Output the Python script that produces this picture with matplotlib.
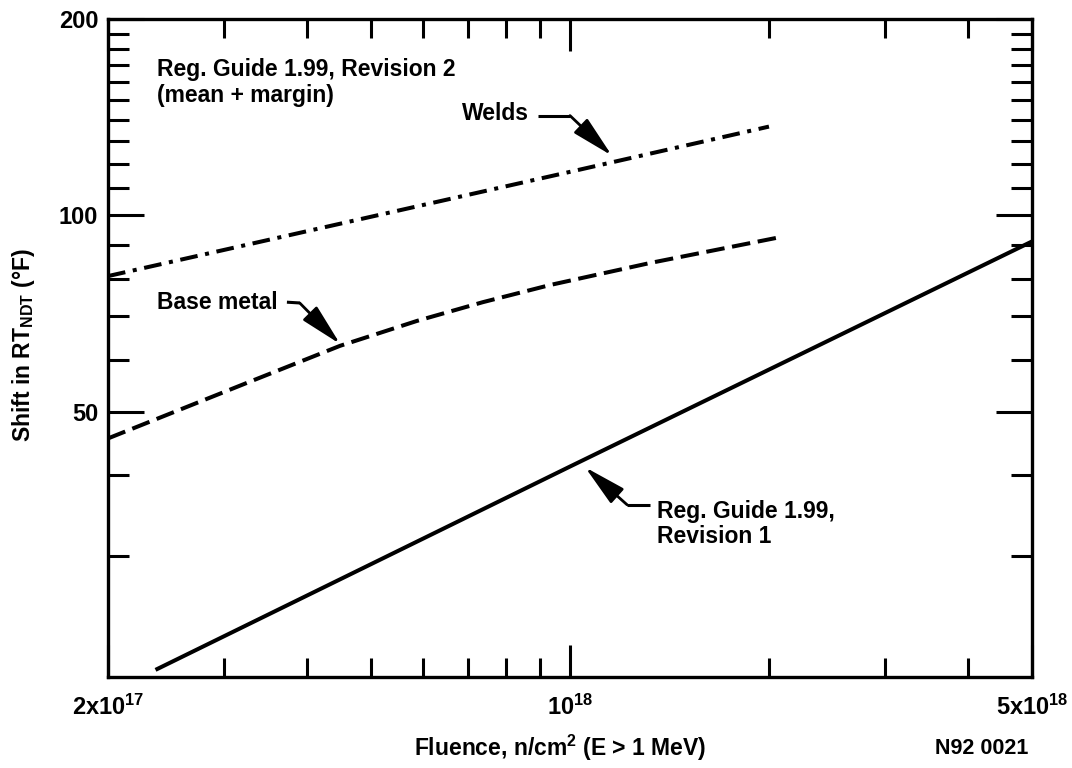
import matplotlib
matplotlib.use('Agg')
import matplotlib.pyplot as plt
from matplotlib.ticker import FixedLocator, FixedFormatter, NullFormatter

plt.rcParams['font.family'] = ['Liberation Sans', 'DejaVu Sans']
plt.rcParams['font.weight'] = 'bold'
plt.rcParams['axes.labelweight'] = 'bold'
plt.rcParams['mathtext.fontset'] = 'custom'
plt.rcParams['mathtext.rm'] = 'Liberation Sans:bold'
plt.rcParams['mathtext.it'] = 'Liberation Sans:bold'
plt.rcParams['mathtext.bf'] = 'Liberation Sans:bold'
plt.rcParams['mathtext.default'] = 'rm'

# ---- data ----
rev1_fluence = [2.36e17, 1.0e18, 5.0e18]
rev1_shift = [20.1, 41.2, 91.2]

base_fluence = [2.0e17, 3.28e17, 4.49e17, 5.87e17, 7.38e17, 9.33e17, 1.32e18, 2.08e18]
base_shift = [45.5, 55.6, 63.1, 68.9, 73.6, 78.2, 84.5, 92.6]

weld_fluence = [2.0e17, 1.0e18, 2.0e18]
weld_shift = [80.7, 116.6, 136.8]

x_major = [2e17, 1e18, 5e18]
x_major_labels = [r'$2x10^{17}$', r'$10^{18}$', r'$5x10^{18}$']
x_minor = [3e17, 4e17, 5e17, 6e17, 7e17, 8e17, 9e17, 2e18, 3e18, 4e18]
y_major = [50, 100, 200]
y_major_labels = ['50', '100', '200']
y_minor = [30, 40, 60, 70, 80, 90, 110, 120, 130, 140, 150, 160, 170, 180, 190]

FS = 16.5
TFS = 17
LW = 2.9

fig = plt.figure(figsize=(10.72, 7.68), dpi=100)
ax = fig.add_axes([108/1072, 1-677/768, (1032-108)/1072, (677-19)/768])
ax.set_xscale('log')
ax.set_yscale('log')

ax.plot(rev1_fluence, rev1_shift, color='k', lw=LW, solid_capstyle='butt')
ax.plot(base_fluence, base_shift, color='k', lw=LW, dashes=(4.6, 1.9), dash_capstyle='butt')
ax.plot(weld_fluence, weld_shift, color='k', lw=LW, dashes=(4.4, 1.9, 1.0, 1.9), dash_capstyle='butt')

ax.set_xlim(2e17, 5e18)
ax.set_ylim(19.6, 200)

ax.xaxis.set_major_locator(FixedLocator(x_major))
ax.xaxis.set_major_formatter(FixedFormatter(x_major_labels))
ax.xaxis.set_minor_locator(FixedLocator(x_minor))
ax.xaxis.set_minor_formatter(NullFormatter())
ax.yaxis.set_major_locator(FixedLocator(y_major))
ax.yaxis.set_major_formatter(FixedFormatter(y_major_labels))
ax.yaxis.set_minor_locator(FixedLocator(y_minor))
ax.yaxis.set_minor_formatter(NullFormatter())

ax.tick_params(axis='both', which='both', direction='in', top=True, right=True,
               width=2.2, color='k', labelsize=TFS)
ax.tick_params(axis='y', which='major', length=26, pad=7)
ax.tick_params(axis='y', which='minor', length=15)
ax.tick_params(axis='x', which='major', length=23, pad=13)
ax.tick_params(axis='x', which='minor', length=14)
for s in ax.spines.values():
    s.set_linewidth(2.4)

ax.set_xlabel(r'Fluence, n/cm$^2$ (E > 1 MeV)', fontsize=FS)
ax.xaxis.label.set_va('center')
ax.xaxis.set_label_coords((560-108)/924, -(748-677)/658)
ax.set_ylabel(r'Shift in RT$_{NDT}$ (°F)', fontsize=FS)
ax.yaxis.label.set_va('center')
ax.yaxis.set_label_coords(-(108-24)/924, (677-345)/658)

fig.text(982/1072, 1-748/768, 'N92 0021', fontsize=15.5, ha='center', va='center')

ax.text(2.37e17, 160, 'Reg. Guide 1.99, Revision 2\n(mean + margin)', fontsize=FS,
        ha='left', va='center', linespacing=1.15)
ax.text(6.86e17, 143.2, 'Welds', fontsize=FS, ha='left', va='center')
ax.text(2.37e17, 73.6, 'Base metal', fontsize=FS, ha='left', va='center')
ax.text(1.354e18, 33.6, 'Reg. Guide 1.99,\nRevision 1', fontsize=FS, ha='left', va='center',
        linespacing=1.1)


def pointer(start, bend, tip):
    ax.plot([start[0], bend[0]], [start[1], bend[1]], color='k', lw=2.2,
            solid_capstyle='butt', scalex=False, scaley=False)
    ax.annotate('', xy=tip, xytext=bend,
                arrowprops=dict(arrowstyle='-|>,head_length=1.3,head_width=0.3',
                                lw=2.0, color='k', mutation_scale=20,
                                shrinkA=0, shrinkB=0))


pointer((8.94e17, 142.2), (1.0e18, 142.2), (1.157e18, 123.5))
pointer((3.73e17, 73.6), (3.90e17, 73.4), (4.49e17, 63.5))
pointer((1.32e18, 36.0), (1.22e18, 36.0), (1.054e18, 41.1))

fig.savefig('out.png', dpi=100)
